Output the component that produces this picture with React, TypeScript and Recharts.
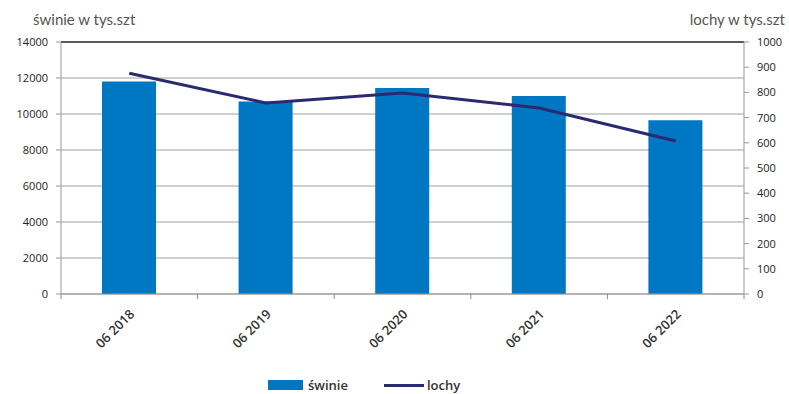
import React from "react";
import {
  ComposedChart,
  Bar,
  Line,
  XAxis,
  YAxis,
  CartesianGrid,
  ReferenceLine,
} from "recharts";

const categories = ["06 2018", "06 2019", "06 2020", "06 2021", "06 2022"];
const swinie = [11800, 10700, 11450, 11000, 9650];
const lochy = [876, 758, 798, 738, 607];
const leftTicks = [0, 2000, 4000, 6000, 8000, 10000, 12000, 14000];
const rightTicks = [0, 100, 200, 300, 400, 500, 600, 700, 800, 900, 1000];

const data = categories.map((c, i) => ({ name: c, swinie: swinie[i], lochy: lochy[i] }));

const W = 789;
const H = 394;
const LEFT_W = 61;
const RIGHT_W = 45;
const BAND = (W - LEFT_W - RIGHT_W) / categories.length;

const tickFont = { fontSize: 11, fill: "#222", fontFamily: "'Open Sans', sans-serif" };

function XTick(props: any) {
  const { x, y, payload, index } = props;
  const tx = x + 6;
  const ty = y + 13;
  return (
    <g>
      <line x1={x - BAND / 2} x2={x - BAND / 2} y1={y - 8} y2={y - 3} stroke="#888" />
      {index === categories.length - 1 && (
        <line x1={x + BAND / 2} x2={x + BAND / 2} y1={y - 8} y2={y - 3} stroke="#888" />
      )}
      <text
        x={tx}
        y={ty}
        textAnchor="end"
        transform={`rotate(-45, ${tx}, ${ty})`}
        style={{ fontSize: 13, fontWeight: 600, fontFamily: "'Open Sans', sans-serif" }}
        fill="#333"
      >
        {payload.value}
      </text>
    </g>
  );
}

export default function App() {
  return (
    <div style={{ position: "absolute", left: 0, top: 0, width: W, height: H, background: "#fff", overflow: "hidden" }}>
      <div
        style={{
          position: "absolute",
          left: 33,
          top: 10,
          fontFamily: "Lato, sans-serif",
          fontSize: 15,
          color: "#555",
        }}
      >
        świnie w tys.szt
      </div>
      <div
        style={{
          position: "absolute",
          right: 4,
          top: 10,
          fontFamily: "Lato, sans-serif",
          fontSize: 15,
          color: "#555",
        }}
      >
        lochy w tys.szt
      </div>
      <ComposedChart width={W} height={H} data={data} margin={{ top: 42, right: 0, left: 0, bottom: 0 }}>
        <CartesianGrid vertical={false} stroke="#a0a0a0" yAxisId="left" />
        <XAxis
          dataKey="name"
          height={100}
          interval={0}
          tick={<XTick />}
          tickLine={false}
          axisLine={{ stroke: "#999" }}
        />
        <YAxis
          yAxisId="left"
          width={LEFT_W}
          domain={[0, 14000]}
          ticks={leftTicks}
          tick={tickFont}
          tickSize={5}
          tickMargin={8}
          axisLine={{ stroke: "#999" }}
          tickLine={{ stroke: "#999" }}
        />
        <YAxis
          yAxisId="right"
          orientation="right"
          width={RIGHT_W}
          domain={[0, 1000]}
          ticks={rightTicks}
          tick={tickFont}
          tickSize={5}
          tickMargin={8}
          axisLine={{ stroke: "#999" }}
          tickLine={{ stroke: "#999" }}
        />
        <ReferenceLine yAxisId="left" y={14000} stroke="#333" strokeWidth={1.5} />
        <Bar yAxisId="left" dataKey="swinie" fill="#0077c2" barSize={54} isAnimationActive={false} />
        <Line
          yAxisId="right"
          dataKey="lochy"
          type="linear"
          stroke="#2b2a70"
          strokeWidth={3}
          dot={false}
          isAnimationActive={false}
        />
      </ComposedChart>
      <div
        style={{
          position: "absolute",
          left: 268,
          top: 376,
          display: "flex",
          alignItems: "center",
          fontFamily: "'Open Sans', sans-serif",
          fontSize: 13,
          fontWeight: 600,
          color: "#333",
        }}
      >
        <span style={{ display: "inline-block", width: 35, height: 10, background: "#0077c2", marginRight: 5 }} />
        <span>świnie</span>
        <span style={{ display: "inline-block", width: 40, height: 3, background: "#2b2a70", marginLeft: 36, marginRight: 3 }} />
        <span>lochy</span>
      </div>
    </div>
  );
}
